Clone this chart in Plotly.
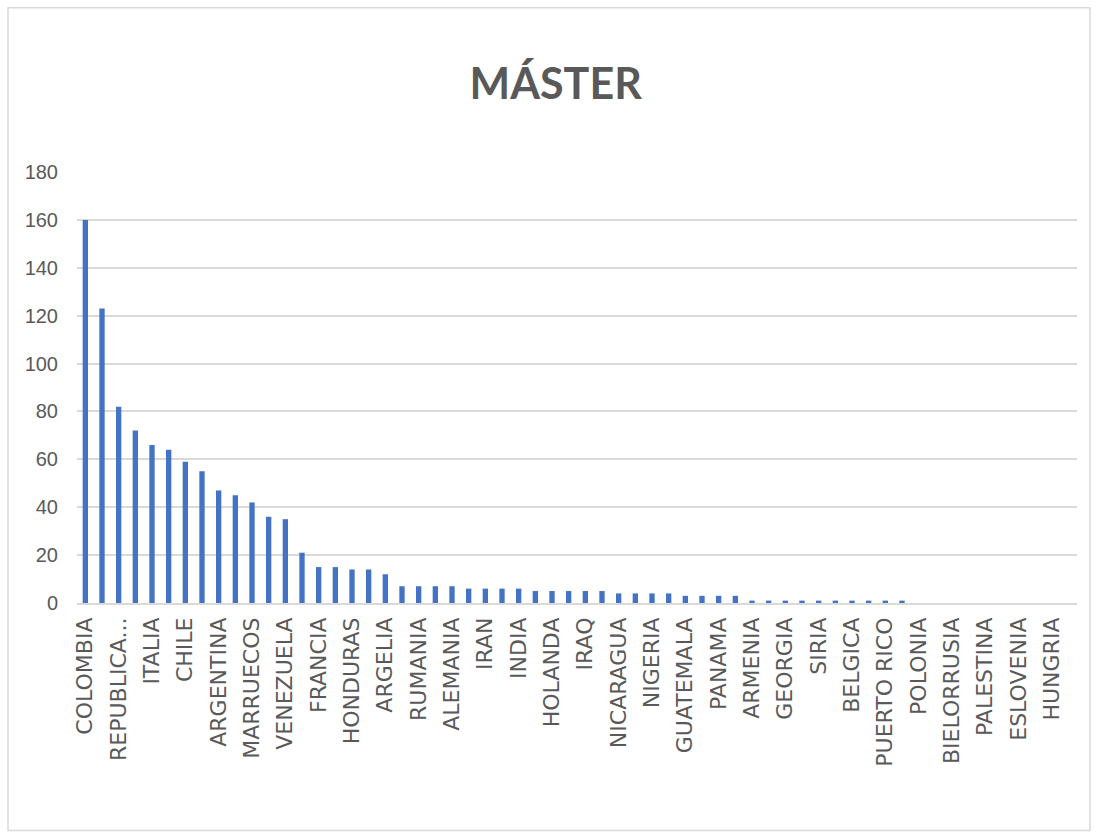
import plotly.graph_objects as go

countries = [
    "COLOMBIA", "ECUADOR", "REPUBLICA DOMINICANA", "MEXICO", "ITALIA", "PERU",
    "CHILE", "CHINA", "ARGENTINA", "BRASIL", "MARRUECOS", "BOLIVIA",
    "VENEZUELA", "PORTUGAL", "FRANCIA", "CUBA", "HONDURAS", "PARAGUAY",
    "ARGELIA", "EL SALVADOR", "RUMANIA", "URUGUAY", "ALEMANIA", "RUSIA",
    "IRAN", "ESTADOS UNIDOS", "INDIA", "REINO UNIDO", "HOLANDA", "PAKISTAN",
    "IRAQ", "COSTA RICA", "NICARAGUA", "SENEGAL", "NIGERIA", "TUNEZ",
    "GUATEMALA", "EGIPTO", "PANAMA", "UCRANIA", "ARMENIA", "JORDANIA",
    "GEORGIA", "LIBANO", "SIRIA", "GRECIA", "BELGICA", "IRLANDA",
    "PUERTO RICO", "SUIZA", "POLONIA", "BULGARIA", "BIELORRUSIA", "CAMERUN",
    "PALESTINA", "JAPON", "ESLOVENIA", "TURQUIA", "HUNGRIA", "SUECIA",
]
values = [
    160, 123, 82, 72, 66, 64,
    59, 55, 47, 45, 42, 36,
    35, 21, 15, 15, 14, 14,
    12, 7, 7, 7, 7, 6,
    6, 6, 6, 5, 5, 5,
    5, 5, 4, 4, 4, 4,
    3, 3, 3, 3, 1, 1,
    1, 1, 1, 1, 1, 1,
    1, 1, 0, 0, 0, 0,
    0, 0, 0, 0, 0, 0,
]
tick_labels = [
    "COLOMBIA", "REPUBLICA...", "ITALIA", "CHILE", "ARGENTINA", "MARRUECOS",
    "VENEZUELA", "FRANCIA", "HONDURAS", "ARGELIA", "RUMANIA", "ALEMANIA",
    "IRAN", "INDIA", "HOLANDA", "IRAQ", "NICARAGUA", "NIGERIA", "GUATEMALA",
    "PANAMA", "ARMENIA", "GEORGIA", "SIRIA", "BELGICA", "PUERTO RICO",
    "POLONIA", "BIELORRUSIA", "PALESTINA", "ESLOVENIA", "HUNGRIA",
]
tick_positions = countries[::2]
y_ticks = [0, 20, 40, 60, 80, 100, 120, 140, 160, 180]

fig = go.Figure(
    go.Bar(x=countries, y=values, marker=dict(color="#4472C4", line=dict(width=0)))
)

grey = "#595959"
fig.update_layout(
    width=1096, height=837,
    margin=dict(l=77, r=19, t=172, b=234),
    paper_bgcolor="white", plot_bgcolor="white",
    bargap=0.68,
    showlegend=False,
    title=dict(
        text="MÁSTER", xref="container", x=0.507, xanchor="center",
        yref="container", y=0.9, yanchor="middle",
        font=dict(family="Lato, sans-serif", size=43, color=grey, weight=700),
    ),
    xaxis=dict(
        type="category", tickmode="array", tickvals=tick_positions, ticktext=tick_labels,
        tickangle=-90, tickfont=dict(family="DejaVu Sans", size=22, color=grey),
        showgrid=False, showline=True, linecolor="#D9D9D9", linewidth=1.5,
        ticks="", ticklabelstandoff=4,
    ),
    yaxis=dict(
        range=[0, 180], tickmode="array", tickvals=y_ticks,
        tickfont=dict(family="Liberation Sans, sans-serif", size=20, color=grey),
        showgrid=True, gridcolor="#D9D9D9", gridwidth=1.5,
        zeroline=False, showline=False, ticks="", ticklabelstandoff=18,
    ),
    shapes=[
        dict(type="rect", xref="paper", yref="paper",
             x0=-0.069, x1=1.013, y0=-0.528, y1=1.381,
             line=dict(color="#D9D9D9", width=1.5), fillcolor="rgba(0,0,0,0)", layer="below"),
    ],
)

fig.write_html("out.html", config={"displayModeBar": False},
               post_script="document.body.style.margin='0';")
